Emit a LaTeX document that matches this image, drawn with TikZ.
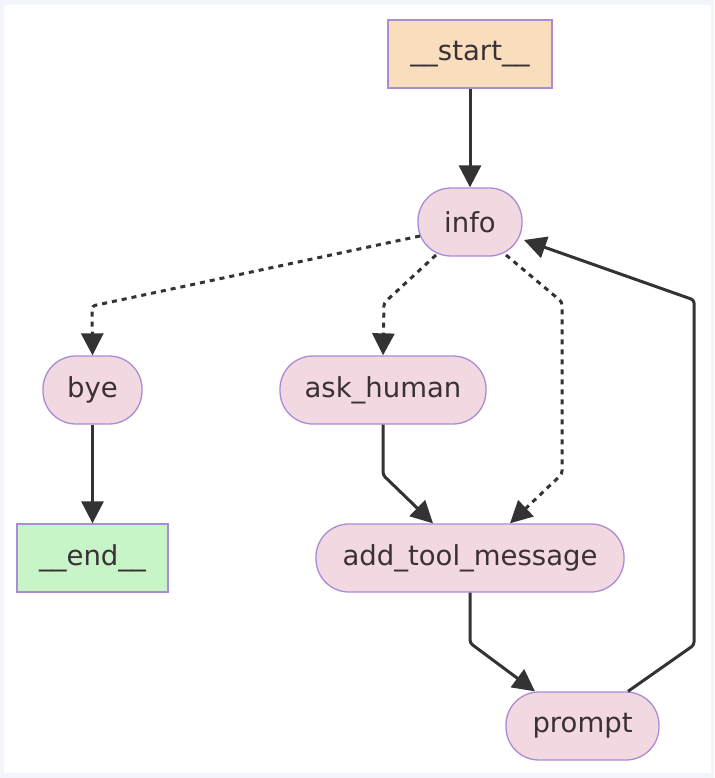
\documentclass[tikz,border=0pt]{standalone}
\usepackage{fontspec}
\setmainfont{DejaVu Sans}
\usetikzlibrary{arrows.meta}
\definecolor{nodefill}{HTML}{F2D8E1}
\definecolor{nodeline}{HTML}{A98BD6}
\definecolor{startfill}{HTML}{F9DEBD}
\definecolor{endfill}{HTML}{C8F5C8}
\definecolor{edgecol}{HTML}{333333}
\definecolor{txt}{HTML}{3A3035}
\definecolor{frame}{HTML}{F2F6FB}
\tikzset{
  x=1pt,y=-1pt,
  base/.style={draw=nodeline,line width=1.3pt,text=txt,font=\fontsize{27.5}{30}\selectfont,minimum height=68pt,inner sep=0pt,anchor=center},
  roundnode/.style={base,rectangle,rounded corners=33pt,fill=nodefill},
  startnode/.style={base,rectangle,fill=startfill},
  endnode/.style={base,rectangle,fill=endfill},
  edge/.style={draw=edgecol,line width=3pt,rounded corners=3pt,-{Triangle[length=22pt,width=22pt]}},
  dotedge/.style={edge,dash pattern=on 5pt off 5pt},
}
\begin{document}
\begin{tikzpicture}
\fill[frame] (0,0) rectangle (714,778);
\fill[white] (4,5) rectangle (711,773);
\useasboundingbox (0,0) rectangle (714,778);
\node[startnode,minimum width=164pt] (start) at (470,54) {\_\_start\_\_};
\node[roundnode,minimum width=104pt] (info) at (470,222) {info};
\node[roundnode,minimum width=99pt] (bye) at (92.5,390) {bye};
\node[roundnode,minimum width=206pt] (ask) at (383,390) {ask\_human};
\node[endnode,minimum width=151pt] (end) at (92.5,558) {\_\_end\_\_};
\node[roundnode,minimum width=308pt] (add) at (470,558) {add\_tool\_message};
\node[roundnode,minimum width=153pt] (prompt) at (582.5,726) {prompt};
\coordinate (c0) at (420,236);
\coordinate (c1) at (92,306);
\coordinate (c2s) at (436,255);
\coordinate (c2) at (384,303);
\coordinate (c3s) at (506,255);
\coordinate (c3a) at (562,302);
\coordinate (c3b) at (562,474);
\coordinate (c4) at (383,475);
\coordinate (c5) at (470,643);
\coordinate (c6a) at (694,645);
\coordinate (c6b) at (694,300);
\coordinate (c6e) at (524,240);
\draw[edge] (start) -- (info);
\draw[dotedge] (c0) -- (c1) -- (bye.north);
\draw[dotedge] (c2s) -- (c2) -- (ask.north);
\draw[dotedge] (c3s) -- (c3a) -- (c3b) -- (add.north -| 510,0);
\draw[edge] (bye) -- (end);
\draw[edge] (ask.south) -- (c4) -- (add.north -| 433,0);
\draw[edge] (add.south) -- (c5) -- (prompt.north -| 535,0);
\draw[edge] (prompt.north -| 628,0) -- (c6a) -- (c6b) -- (c6e);
\end{tikzpicture}
\end{document}
